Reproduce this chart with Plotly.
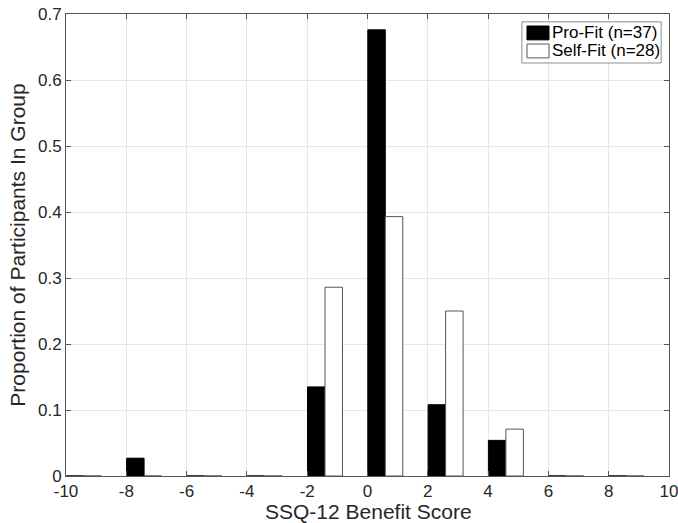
import plotly.graph_objects as go

bins = [-10, -8, -6, -4, -2, 0, 2, 4, 6, 8]
pro_fit = [0, 0.027, 0, 0, 0.135, 0.676, 0.108, 0.054, 0, 0]
self_fit = [0, 0, 0, 0, 0.286, 0.393, 0.25, 0.071, 0, 0]
series_names = ["Pro-Fit (n=37)", "Self-Fit (n=28)"]
x_ticks = [-10, -8, -6, -4, -2, 0, 2, 4, 6, 8, 10]
y_ticks = [0, 0.1, 0.2, 0.3, 0.4, 0.5, 0.6, 0.7]
y_tick_text = ["0", "0.1", "0.2", "0.3", "0.4", "0.5", "0.6", "0.7"]
x_title = "SSQ-12 Benefit Score"
y_title = "Proportion of Participants In Group"

bw = 0.58
fig = go.Figure()
fig.add_trace(go.Bar(x=bins, y=pro_fit, name=series_names[0], width=bw, offset=0.01,
                     marker=dict(color="black", line=dict(color="black", width=1))))
fig.add_trace(go.Bar(x=bins, y=self_fit, name=series_names[1], width=bw, offset=0.01 + bw,
                     marker=dict(color="white", line=dict(color="#555555", width=1))))

# MATLAB-style legend box (top right), in axes-fraction coordinates
fig.add_shape(type="rect", xref="paper", yref="paper", x0=0.756, x1=0.987, y0=0.894, y1=0.983,
              fillcolor="white", line=dict(color="#8c8c8c", width=1), layer="above")
fig.add_shape(type="rect", xref="paper", yref="paper", x0=0.7645, x1=0.801, y0=0.944, y1=0.974,
              fillcolor="black", line=dict(color="black", width=1), layer="above")
fig.add_shape(type="rect", xref="paper", yref="paper", x0=0.7645, x1=0.801, y0=0.905, y1=0.935,
              fillcolor="white", line=dict(color="#555555", width=1), layer="above")
fig.add_annotation(xref="paper", yref="paper", x=0.8027, y=0.959, xanchor="left", yanchor="middle",
                   text=series_names[0], showarrow=False, font=dict(size=17, color="black"))
fig.add_annotation(xref="paper", yref="paper", x=0.8027, y=0.920, xanchor="left", yanchor="middle",
                   text=series_names[1], showarrow=False, font=dict(size=17, color="black"))
# x-axis title
fig.add_annotation(xref="paper", yref="paper", x=0.502, y=-0.077, xanchor="center", yanchor="middle",
                   text=x_title, showarrow=False, font=dict(size=21, color="#262626"))

font = "Liberation Sans, Arial, Helvetica, sans-serif"
fig.update_layout(
    width=678, height=523,
    margin=dict(l=66, r=9, t=14, b=47, autoexpand=False),
    paper_bgcolor="white", plot_bgcolor="white",
    barmode="overlay",
    font=dict(family=font, size=17, color="#262626"),
    showlegend=False,
    xaxis=dict(range=[-10, 10], tickvals=x_ticks, ticktext=[str(v) for v in x_ticks],
               showgrid=True, gridcolor="#e6e6e6", gridwidth=1,
               showline=True, linecolor="#555555", mirror="ticks",
               ticks="inside", ticklen=5, tickcolor="#555555",
               zeroline=False, ticklabeloverflow="allow",
               tickfont=dict(size=17)),
    yaxis=dict(range=[0, 0.7], tickvals=y_ticks, ticktext=y_tick_text,
               showgrid=True, gridcolor="#e6e6e6", gridwidth=1,
               showline=True, linecolor="#555555", mirror="ticks",
               ticks="inside", ticklen=5, tickcolor="#555555",
               zeroline=False, ticklabeloverflow="allow",
               title=dict(text=y_title, font=dict(size=21), standoff=6),
               tickfont=dict(size=17)),
)
fig.write_html("out.html", config={"displayModeBar": False},
               post_script="document.body.style.margin='0px';document.body.style.overflow='hidden';")
